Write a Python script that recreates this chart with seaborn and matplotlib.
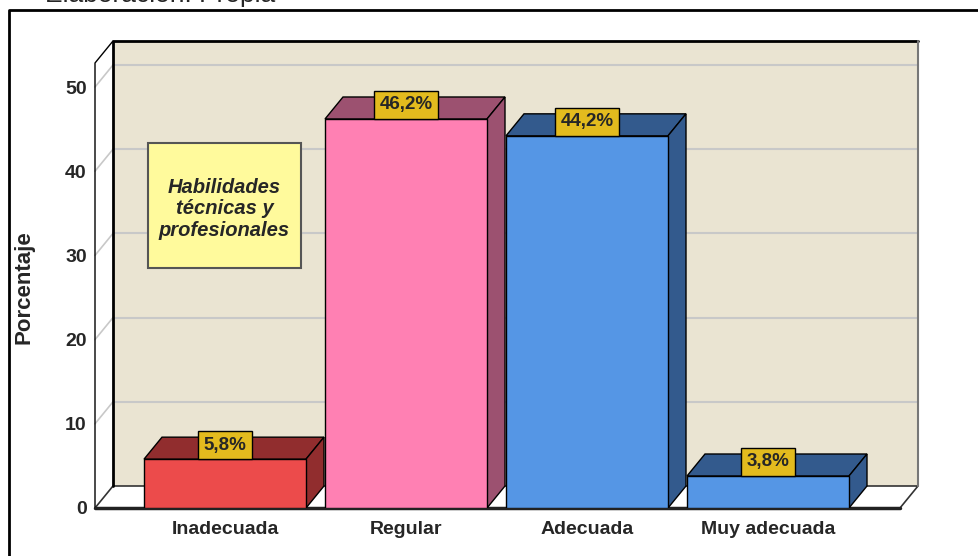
import matplotlib
matplotlib.use('Agg')
import matplotlib.pyplot as plt
import seaborn as sns
from matplotlib.patches import Polygon, Rectangle
from matplotlib.lines import Line2D

# datos
categorias = ['Inadecuada', 'Regular', 'Adecuada', 'Muy adecuada']
porcentajes = [5.8, 46.2, 44.2, 3.8]
etiquetas = ['5,8%', '46,2%', '44,2%', '3,8%']
colores = ['#EC4B4B', '#FF80B3', '#5596E5', '#5596E5']
colores_osc = ['#912D2E', '#9C5170', '#335A8D', '#335A8D']
yticks = [0, 10, 20, 30, 40, 50]
titulo_caja = 'Habilidades\ntécnicas y\nprofesionales'

sns.set_style('white')
plt.rcParams['font.family'] = ['Liberation Sans Narrow', 'Liberation Sans', 'DejaVu Sans']

W, H = 979, 556
fig = plt.figure(figsize=(W / 100, H / 100), dpi=100)

# geometria en pixeles (frente del grafico 3D)
px_l, px_r, px_b, px_t = 95, 900, 508, 63
ppx, ppy = 181.0, 8.42
cx0 = 225
ax = fig.add_axes([px_l / W, 1 - px_b / H, (px_r - px_l) / W, (px_b - px_t) / H])
x0 = (px_l - cx0) / ppx
x1 = (px_r - cx0) / ppx
ytop = (px_b - px_t) / ppy
DX = 18 / ppx
DY = 22 / ppy

# barras
sns.barplot(x=categorias, y=porcentajes, hue=categorias, palette=colores, width=0.895,
            saturation=1, edgecolor='black', linewidth=1, legend=False, ax=ax, zorder=2)
barras = [p for p in ax.patches if isinstance(p, Rectangle)]

for p, c in zip(barras, colores_osc):
    bx, bw, bh = p.get_x(), p.get_width(), p.get_height()
    ax.add_patch(Polygon([(bx, bh), (bx + bw, bh), (bx + bw + DX, bh + DY), (bx + DX, bh + DY)],
                         closed=True, fc=c, ec='black', lw=1, zorder=1.9))
    ax.add_patch(Polygon([(bx + bw, 0), (bx + bw, bh), (bx + bw + DX, bh + DY), (bx + bw + DX, DY)],
                         closed=True, fc=c, ec='black', lw=1, zorder=1.9))

# pared trasera
ax.add_patch(Polygon([(x0 + DX, DY), (x1 + DX, DY), (x1 + DX, ytop + DY), (x0 + DX, ytop + DY)],
                     closed=True, fc='#EAE4D2', ec='none', zorder=0, clip_on=False))
# pared izquierda y suelo
ax.add_patch(Polygon([(x0, 0), (x0, ytop), (x0 + DX, ytop + DY), (x0 + DX, DY)],
                     closed=True, fc='white', ec='none', zorder=0, clip_on=False))
ax.add_patch(Polygon([(x0, 0), (x1, 0), (x1 + DX, DY), (x0 + DX, DY)],
                     closed=True, fc='white', ec='#333333', lw=1.2, zorder=0.5, clip_on=False))

# rejilla
for v in yticks[1:]:
    ax.plot([x0 + DX, x1 + DX], [v + DY, v + DY], color='#C8C8C8', lw=1.5, zorder=0.3, clip_on=False)
    ax.plot([x0, x0 + DX], [v, v + DY], color='#C8C8C8', lw=1.2, zorder=0.3, clip_on=False)

# bordes
ax.plot([x0 + DX, x0 + DX, x1 + DX], [DY, ytop + DY, ytop + DY], color='black', lw=2, zorder=0.6, clip_on=False)
ax.plot([x1 + DX, x1 + DX], [DY, ytop + DY], color='#777777', lw=1.5, zorder=0.6, clip_on=False)
ax.plot([x0, x0, x0 + DX], [0, ytop, ytop + DY], color='black', lw=1, zorder=0.6, clip_on=False)
ax.plot([x0, x1], [0, 0], color='#222222', lw=2.5, zorder=0.7, clip_on=False)

for i, (v, lab) in enumerate(zip(porcentajes, etiquetas)):
    ax.annotate(lab, (i, v), xytext=(0, 4), textcoords='offset points', ha='center', va='bottom',
                fontsize=13.5, fontweight='bold', zorder=3,
                bbox=dict(boxstyle='square,pad=0.28', fc='#E3BB1E', ec='black', lw=1))

ax.set_xlim(x0, x1)
ax.set_ylim(0, ytop)
ax.set_yticks(yticks)
ax.set_yticklabels([str(t) for t in yticks], fontsize=14, fontweight='bold')
ax.tick_params(axis='both', length=0)
ax.tick_params(axis='y', pad=6)
ax.tick_params(axis='x', pad=9)
for lbl in ax.get_xticklabels():
    lbl.set_fontsize(14)
    lbl.set_fontweight('bold')
ax.set_xlabel('')
ax.set_ylabel('Porcentaje', fontsize=16, fontweight='bold', family=['Liberation Sans', 'DejaVu Sans'])
ax.yaxis.set_label_coords((35 - px_l) / (px_r - px_l), (px_b - 287) / (px_b - px_t))
for s in ax.spines.values():
    s.set_visible(False)
ax.patch.set_visible(False)

# caja de titulo
fig.add_artist(Rectangle((148 / W, 1 - 268 / H), (301 - 148) / W, (268 - 143) / H,
                         transform=fig.transFigure, fc='#FFFA9C', ec='#555555', lw=1.5, zorder=5))
fig.text(224.5 / W, 1 - 209 / H, titulo_caja, ha='center', va='center', fontsize=14.5,
         fontweight='bold', fontstyle='italic', linespacing=1.15, zorder=6,
         family=['Liberation Sans', 'DejaVu Sans'])

# marco exterior y texto superior (recortado como en la imagen original)
fig.add_artist(Line2D([9 / W, 9 / W, 1.01], [-0.01, 1 - 10 / H, 1 - 10 / H],
                      transform=fig.transFigure, color='black', lw=2))
fig.text(45 / W, 1 - 2 / H, 'Elaboración: Propia', ha='left', va='baseline', fontsize=19,
         family=['Liberation Sans', 'DejaVu Sans'])

plt.savefig('out.png', dpi=100)
